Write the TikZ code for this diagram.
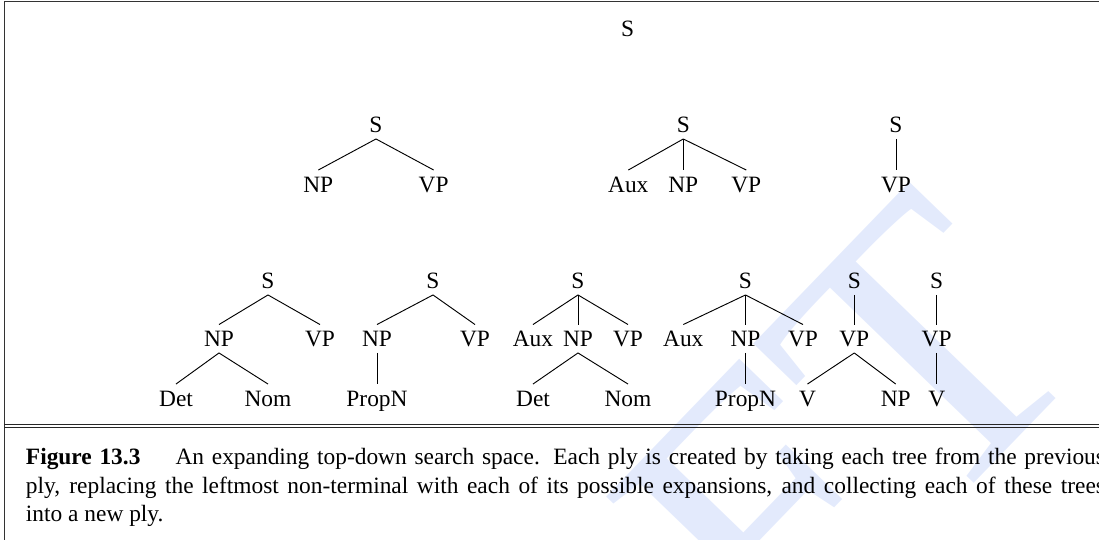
\documentclass[tikz,border=0pt]{standalone}
\usepackage{fontspec}
\setmainfont{Liberation Serif}
\definecolor{wmblue}{RGB}{227,234,252}
\newlength\pxu
\setlength\pxu{0.4274pt}
\tikzset{
  lbl/.style={inner sep=0pt, text height=6.62pt, text depth=0pt, anchor=base, font=\fontsize{10}{12}\selectfont},
  treeline/.style={line width=0.4pt, black},
  framerule/.style={line width=0.5pt, black!80},
  caprule/.style={line width=0.45pt, black!85},
  captext/.style={inner sep=0pt, anchor=base west, font=\fontsize{10}{12}\selectfont},
  watermark/.style={inner sep=0pt, anchor=base east, text=wmblue, font=\fontsize{166.7}{166.7}\selectfont, rotate=46}
}
\newcommand\tedge[2]{\draw[treeline] ([yshift=-2.35pt]#1.south) -- ([yshift=2.78pt]#2.north);}
\begin{document}
\begin{tikzpicture}[x=0.4274pt,y=-0.4274pt]
\useasboundingbox (0,0) rectangle (1099,540);
% watermark
\node[watermark] (wm) at (1098.9,354.2) {DRAFT};
% frame
\draw[framerule] (4.3,540) -- (4.3,1.5) -- (1099,1.5);
\draw[caprule] (4.3,424.3) -- (1099,424.3);
\draw[caprule] (4.3,427.7) -- (1099,427.7);
% ply 1
\node[lbl] (s0) at (627.7,36.5) {S};
% ply 2
\node[lbl] (as) at (376,133) {S};
\node[lbl] (anp) at (318.3,192.5) {NP};
\node[lbl] (avp) at (433.7,192.5) {VP};
\tedge{as}{anp}\tedge{as}{avp}
\node[lbl] (bs) at (683.3,133) {S};
\node[lbl] (baux) at (628.3,192.5) {Aux};
\node[lbl] (bnp) at (683.3,192.5) {NP};
\node[lbl] (bvp) at (746.3,192.5) {VP};
\tedge{bs}{baux}\tedge{bs}{bnp}\tedge{bs}{bvp}
\node[lbl] (cs) at (896,133) {S};
\node[lbl] (cvp) at (896,192.5) {VP};
\tedge{cs}{cvp}
% ply 3
\node[lbl] (t1s) at (268,289) {S};
\node[lbl] (t1np) at (219,347) {NP};
\node[lbl] (t1vp) at (320,347) {VP};
\node[lbl] (t1det) at (176,406.5) {Det};
\node[lbl] (t1nom) at (268,406.5) {Nom};
\tedge{t1s}{t1np}\tedge{t1s}{t1vp}\tedge{t1np}{t1det}\tedge{t1np}{t1nom}
\node[lbl] (t2s) at (433,289) {S};
\node[lbl] (t2np) at (377,347) {NP};
\node[lbl] (t2vp) at (475,347) {VP};
\node[lbl] (t2pn) at (377,406.5) {PropN};
\tedge{t2s}{t2np}\tedge{t2s}{t2vp}\tedge{t2np}{t2pn}
\node[lbl] (t3s) at (578,289) {S};
\node[lbl] (t3aux) at (533,347) {Aux};
\node[lbl] (t3np) at (578,347) {NP};
\node[lbl] (t3vp) at (628,347) {VP};
\node[lbl] (t3det) at (533,406.5) {Det};
\node[lbl] (t3nom) at (628,406.5) {Nom};
\tedge{t3s}{t3aux}\tedge{t3s}{t3np}\tedge{t3s}{t3vp}\tedge{t3np}{t3det}\tedge{t3np}{t3nom}
\node[lbl] (t4s) at (745.5,289) {S};
\node[lbl] (t4aux) at (683.3,347) {Aux};
\node[lbl] (t4np) at (745.5,347) {NP};
\node[lbl] (t4vp) at (803,347) {VP};
\node[lbl] (t4pn) at (745.5,406.5) {PropN};
\tedge{t4s}{t4aux}\tedge{t4s}{t4np}\tedge{t4s}{t4vp}\tedge{t4np}{t4pn}
\node[lbl] (t5s) at (854.3,289) {S};
\node[lbl] (t5vp) at (854.3,347) {VP};
\node[lbl] (t5v) at (807.5,406.5) {V};
\node[lbl] (t5np) at (895.7,406.5) {NP};
\tedge{t5s}{t5vp}\tedge{t5vp}{t5v}\tedge{t5vp}{t5np}
\node[lbl] (t6s) at (936.7,289) {S};
\node[lbl] (t6vp) at (936.7,347) {VP};
\node[lbl] (t6v) at (936.7,406.5) {V};
\tedge{t6s}{t6vp}\tedge{t6vp}{t6v}
% caption
\node[captext] (cap1) at (25.5,465) {\makebox[1079\pxu][s]{\textbf{Figure 13.3}\hspace{1.5em}An expanding top-down search space. Each ply is created by taking each tree from the previous}};
\node[captext] (cap2) at (25.5,493.3) {\makebox[1079\pxu][s]{ply, replacing the leftmost non-terminal with each of its possible expansions, and collecting each of these trees}};
\node[captext] (cap3) at (25.5,521.6) {into a new ply.};
\end{tikzpicture}
\end{document}
